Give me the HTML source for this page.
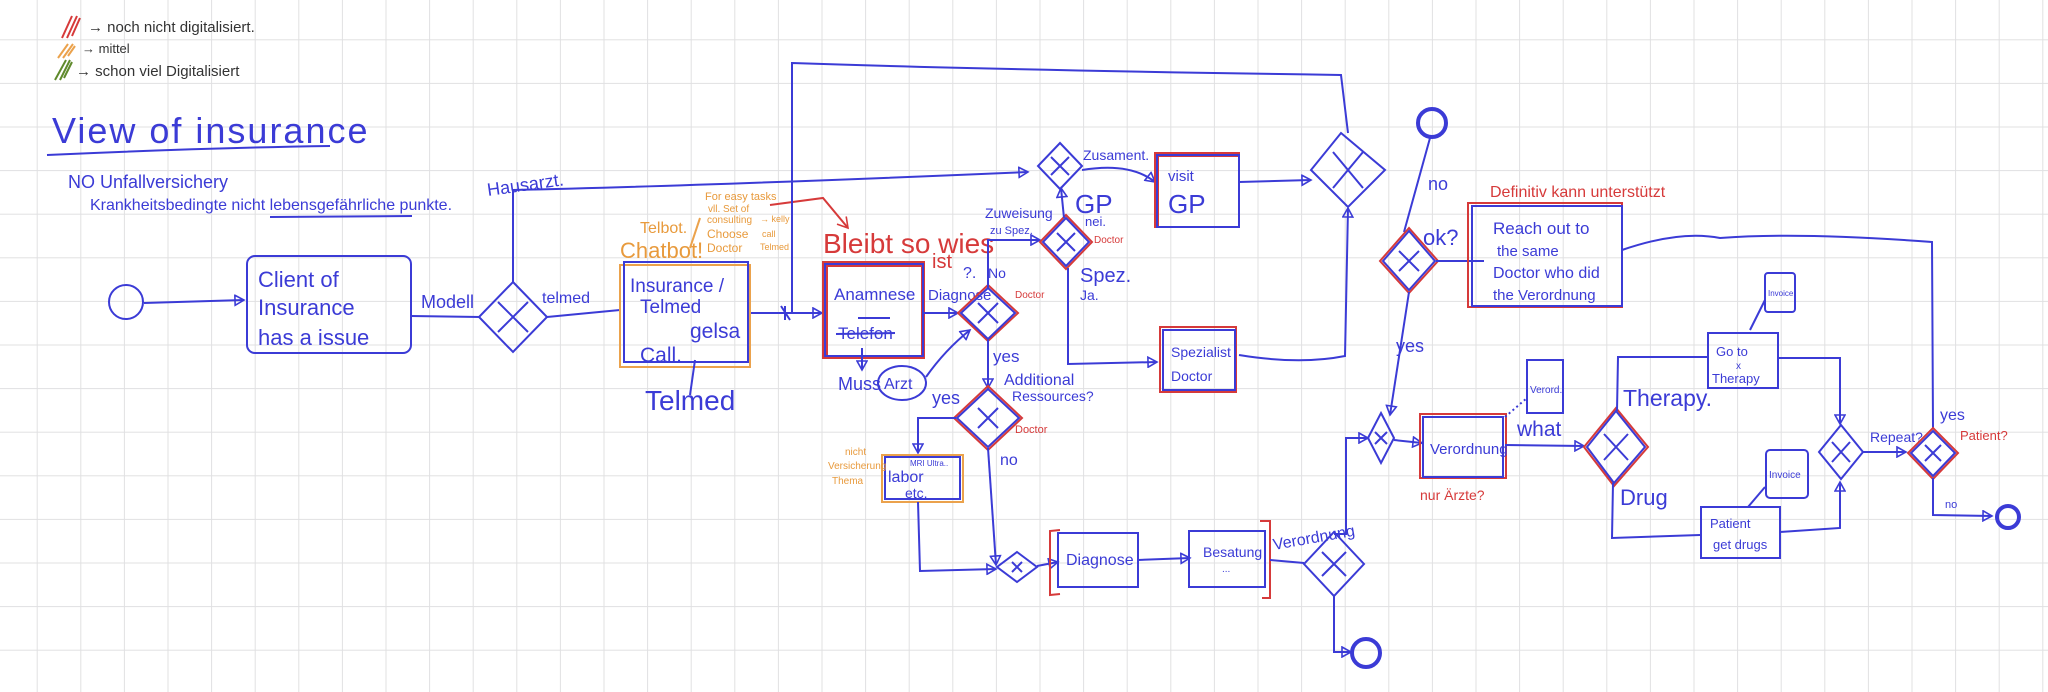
<!DOCTYPE html>
<html><head><meta charset="utf-8"><style>
html,body{margin:0;padding:0;background:#fff}
svg{display:block}
text{font-family:"Liberation Sans",sans-serif}
.b{fill:none;stroke:#3b3bd6;stroke-width:2}
.r{fill:none;stroke:#d63a3a;stroke-width:2}
.o{fill:none;stroke:#eba24c;stroke-width:2}
.bt{fill:#3b3bd6}
.rt{fill:#d63a3a}
.ot{fill:#e89a3c}
.kt{fill:#333}
</style></head><body>
<svg width="2048" height="692" viewBox="0 0 2048 692" xmlns="http://www.w3.org/2000/svg">
<defs>
<pattern id="g" x="36.7" y="39.3" width="43.6" height="43.6" patternUnits="userSpaceOnUse">
<path d="M0 0H43.6M0 0V43.6" stroke="#e0e0e2" stroke-width="2" fill="none"/>
</pattern>
<marker id="a" markerWidth="12" markerHeight="12" refX="10" refY="6" orient="auto" markerUnits="userSpaceOnUse">
<path d="M1 1L10 6L1 11Z" fill="none" stroke="#3b3bd6" stroke-width="1.6"/>
</marker>
<marker id="ar" markerWidth="14" markerHeight="14" refX="11" refY="7" orient="auto" markerUnits="userSpaceOnUse">
<path d="M1 1L11 7L1 13" fill="none" stroke="#d63a3a" stroke-width="1.6"/>
</marker>
</defs>
<rect width="2048" height="692" fill="#fff"/>
<rect width="2048" height="692" fill="url(#g)"/>

<!-- legend -->
<path d="M62 38L72 16M67 38L77 16M72 36L80 18" stroke="#d63a3a" stroke-width="2" fill="none"/>
<path d="M58 58L68 44M63 58L73 44M68 56L75 46" stroke="#eba24c" stroke-width="2" fill="none"/>
<path d="M55 80L66 60M60 80L70 60M64 78L72 62" stroke="#5f8a2c" stroke-width="2" fill="none"/>
<text x="88" y="32" class="kt" font-size="15">→ noch nicht digitalisiert.</text>
<text x="82" y="53" class="kt" font-size="13">→ mittel</text>
<text x="76" y="76" class="kt" font-size="15">→ schon viel Digitalisiert</text>

<text x="52" y="143" class="bt" font-size="36" letter-spacing="2">View of insurance</text>
<path d="M47 155Q200 148 330 146" class="b"/>
<text x="68" y="188" class="bt" font-size="18">NO Unfallversichery</text>
<text x="90" y="210" class="bt" font-size="16">Krankheitsbedingte nicht lebensgefährliche punkte.</text>
<path d="M270 217L412 216" class="b"/>
<text x="488" y="196" class="bt" font-size="18" transform="rotate(-8 488 196)">Hausarzt.</text>

<!-- start -->
<circle cx="126" cy="302" r="17" class="b"/>
<path d="M144 303L244 300" class="b" marker-end="url(#a)"/>
<rect x="247" y="256" width="164" height="97" rx="8" class="b"/>
<text x="258" y="287" class="bt" font-size="22">Client of</text>
<text x="258" y="315" class="bt" font-size="22">Insurance</text>
<text x="258" y="345" class="bt" font-size="22">has  a  issue</text>
<text x="421" y="308" class="bt" font-size="18">Modell</text>
<path d="M411 316L480 317" class="b"/>
<!-- diamond1 -->
<polygon points="513,282 547,317 513,352 479,317" class="b"/>
<path d="M498 332L528 302M498 302L528 332" class="b"/>
<path d="M513 282L513 190Q700 186 1028 172" class="b" marker-end="url(#a)"/>
<text x="542" y="303" class="bt" font-size="16">telmed</text>
<path d="M547 317L620 310" class="b"/>
<!-- orange box -->
<rect x="620" y="265" width="130" height="102" class="o"/>
<rect x="624" y="262" width="124" height="100" class="b"/>
<text x="630" y="292" class="bt" font-size="19">Insurance /</text>
<text x="640" y="313" class="bt" font-size="19">Telmed</text>
<text x="690" y="338" class="bt" font-size="21">gelsa</text>
<text x="640" y="362" class="bt" font-size="21">Call.</text>
<path d="M695 360L690 395" class="b"/>
<text x="645" y="410" class="bt" font-size="28">Telmed</text>
<text x="640" y="233" class="ot" font-size="16">Telbot.</text>
<text x="620" y="258" class="ot" font-size="22">Chatbot!</text>
<path d="M700 218L690 248" class="o" stroke-width="1.2"/>
<text x="705" y="200" class="ot" font-size="11">For easy tasks</text>
<text x="708" y="212" class="ot" font-size="10">vll. Set of</text>
<text x="707" y="223" class="ot" font-size="10">consulting</text>
<text x="707" y="238" class="ot" font-size="12">Choose</text>
<text x="707" y="252" class="ot" font-size="12">Doctor</text>
<text x="760" y="222" class="ot" font-size="9">→ kelly</text>
<text x="762" y="237" class="ot" font-size="9">call</text>
<text x="760" y="250" class="ot" font-size="9">Telmed</text>
<path d="M770 205L823 198L848 228" class="r" marker-end="url(#ar)"/>
<text x="823" y="253" class="rt" font-size="28">Bleibt so wies</text>
<text x="932" y="268" class="rt" font-size="20">ist</text>

<!-- top long line -->
<path d="M792 312L792 63Q1000 70 1341 75L1348 133" class="b"/>
<path d="M751 313L822 313" class="b" marker-end="url(#a)"/>
<path d="M785 306L785 320M781 306L790 320" class="b"/>
<!-- Anamnese -->
<rect x="823" y="262" width="101" height="96" class="r"/>
<rect x="827" y="266" width="95" height="90" class="r"/>
<rect x="825" y="264" width="98" height="92" class="b"/>
<text x="834" y="300" class="bt" font-size="17">Anamnese</text>
<path d="M858 318L890 318" class="b"/>
<text x="838" y="339" class="bt" font-size="17">Telefon</text>
<path d="M836 334L895 333" class="b"/>
<text x="928" y="300" class="bt" font-size="15">Diagnose</text>
<path d="M924 313L958 313" class="b" marker-end="url(#a)"/>
<!-- diamond2 -->
<polygon points="988,285 1018,313 988,341 958,313" class="r"/>
<polygon points="988,288 1015,313 988,339 961,313" class="b"/>
<path d="M978 323L998 303M978 303L998 323" class="b"/>
<text x="1015" y="298" class="rt" font-size="10">Doctor</text>
<text x="963" y="278" class="bt" font-size="16">?.</text>
<text x="988" y="278" class="bt" font-size="14">No</text>
<path d="M988 288L988 240L1040 240" class="b" marker-end="url(#a)"/>
<text x="985" y="218" class="bt" font-size="14">Zuweisung</text>
<text x="990" y="234" class="bt" font-size="11">zu Spez.</text>
<!-- diamond3 -->
<polygon points="1066,215 1092,242 1066,269 1040,242" class="r"/>
<polygon points="1066,218 1089,242 1066,266 1043,242" class="b"/>
<path d="M1057 251L1075 233M1057 233L1075 251" class="b"/>
<text x="1094" y="243" class="rt" font-size="10">Doctor</text>
<path d="M1064 218L1061 188" class="b" marker-end="url(#a)"/>
<text x="1075" y="213" class="bt" font-size="26">GP</text>
<text x="1085" y="226" class="bt" font-size="13">nei.</text>
<text x="1080" y="282" class="bt" font-size="20">Spez.</text>
<text x="1080" y="300" class="bt" font-size="14">Ja.</text>
<path d="M1068 268L1068 364L1157 362" class="b" marker-end="url(#a)"/>
<!-- GP diamond -->
<polygon points="1060,143 1082,166 1060,189 1038,166" class="b"/>
<path d="M1051 175L1069 157M1051 157L1069 175" class="b"/>
<text x="1083" y="160" class="bt" font-size="14">Zusament.</text>
<path d="M1082 170Q1130 162 1155 182" class="b" marker-end="url(#a)"/>
<!-- visit GP -->
<rect x="1155" y="153" width="84" height="74" class="r"/>
<rect x="1158" y="156" width="81" height="71" class="r"/>
<rect x="1157" y="155" width="82" height="72" class="b"/>
<text x="1168" y="181" class="bt" font-size="15">visit</text>
<text x="1168" y="213" class="bt" font-size="26">GP</text>
<path d="M1239 182L1311 180" class="b" marker-end="url(#a)"/>
<!-- Spezialist -->
<rect x="1160" y="327" width="76" height="65" class="r"/>
<rect x="1163" y="330" width="72" height="60" class="b"/>
<text x="1171" y="357" class="bt" font-size="14">Spezialist</text>
<text x="1171" y="381" class="bt" font-size="14">Doctor</text>
<path d="M1239 355Q1300 365 1345 356L1348 208" class="b" marker-end="url(#a)"/>
<!-- big diamond -->
<polygon points="1341,133 1385,170 1348,207 1311,170" class="b"/>
<path d="M1333 188L1363 152M1333 152L1363 188" class="b"/>

<!-- end top -->
<circle cx="1432" cy="123" r="14" fill="none" stroke="#3b3bd6" stroke-width="4"/>
<path d="M1430 138L1404 232" class="b"/>
<text x="1428" y="190" class="bt" font-size="18">no</text>
<!-- diamond4 ok? -->
<polygon points="1409,228 1438,261 1409,293 1380,261" class="r"/>
<polygon points="1409,231 1435,261 1409,290 1383,261" class="b"/>
<path d="M1399 271L1419 251M1399 251L1419 271" class="b"/>
<text x="1423" y="245" class="bt" font-size="22">ok?</text>
<path d="M1436 261L1484 261" class="b"/>
<rect x="1468" y="203" width="154" height="104" class="r"/>
<rect x="1472" y="206" width="150" height="100" class="b"/>
<text x="1490" y="197" class="rt" font-size="16">Definitiv kann unterstützt</text>
<text x="1493" y="234" class="bt" font-size="17">Reach  out  to</text>
<text x="1497" y="256" class="bt" font-size="15">the   same</text>
<text x="1493" y="278" class="bt" font-size="16">Doctor who did</text>
<text x="1493" y="300" class="bt" font-size="15">the Verordnung</text>
<path d="M1622 250Q1680 230 1720 238Q1800 232 1932 242L1933 428" class="b"/>
<path d="M1409 292L1390 415" class="b" marker-end="url(#a)"/>
<text x="1396" y="352" class="bt" font-size="18">yes</text>
<!-- small diamond -->
<polygon points="1381,413 1394,438 1381,463 1368,438" class="b"/>
<path d="M1375 444L1387 432M1375 432L1387 444" class="b"/>
<path d="M1334 534L1346 534L1346 438L1368 438" class="b" marker-end="url(#a)"/>
<path d="M1394 440L1422 443" class="b" marker-end="url(#a)"/>
<!-- Verordnung -->
<rect x="1420" y="414" width="86" height="64" class="r"/>
<rect x="1423" y="417" width="80" height="60" class="b"/>
<text x="1430" y="454" class="bt" font-size="15">Verordnung</text>
<text x="1420" y="500" class="rt" font-size="14">nur Ärzte?</text>
<rect x="1527" y="360" width="36" height="53" class="b"/>
<text x="1530" y="393" class="bt" font-size="10">Verord.</text>
<path d="M1505 417L1527 398" class="b" stroke-dasharray="2 3"/>
<text x="1517" y="436" class="bt" font-size="21">what</text>
<path d="M1505 445L1584 446" class="b" marker-end="url(#a)"/>
<!-- what diamond -->
<polygon points="1616,408 1648,447 1614,486 1584,447" class="r"/>
<polygon points="1616,411 1645,447 1614,483 1587,447" class="b"/>
<path d="M1604 460L1628 434M1604 434L1628 460" class="b"/>
<path d="M1617 411L1618 357L1708 357" class="b"/>
<text x="1623" y="406" class="bt" font-size="23">Therapy.</text>
<rect x="1708" y="333" width="70" height="55" class="b"/>
<text x="1716" y="356" class="bt" font-size="13">Go to</text>
<text x="1736" y="369" class="bt" font-size="10">x</text>
<text x="1712" y="383" class="bt" font-size="13">Therapy</text>
<rect x="1765" y="273" width="30" height="39" rx="3" class="b"/>
<text x="1768" y="296" class="bt" font-size="8">Invoice</text>
<path d="M1750 330L1765 300" class="b"/>
<path d="M1778 358L1840 358L1840 424" class="b" marker-end="url(#a)"/>
<!-- repeat diamond -->
<polygon points="1841,425 1863,452 1841,479 1819,452" class="b"/>
<path d="M1832 462L1850 442M1832 442L1850 462" class="b"/>
<text x="1870" y="442" class="bt" font-size="14">Repeat?</text>
<path d="M1863 452L1906 452" class="b" marker-end="url(#a)"/>
<!-- patient diamond -->
<polygon points="1933,428 1958,453 1933,479 1908,453" class="r"/>
<polygon points="1933,431 1955,453 1933,476 1911,453" class="b"/>
<path d="M1925 461L1941 445M1925 445L1941 461" class="b"/>
<text x="1940" y="420" class="bt" font-size="16">yes</text>
<text x="1960" y="440" class="rt" font-size="13">Patient?</text>
<path d="M1933 478L1933 515L1992 516" class="b" marker-end="url(#a)"/>
<text x="1945" y="508" class="bt" font-size="11">no</text>
<circle cx="2008" cy="517" r="11" fill="none" stroke="#3b3bd6" stroke-width="4"/>
<path d="M1613 483L1612 538L1700 535" class="b"/>
<text x="1620" y="505" class="bt" font-size="22">Drug</text>
<rect x="1701" y="507" width="79" height="51" class="b"/>
<text x="1710" y="528" class="bt" font-size="13">Patient</text>
<text x="1713" y="549" class="bt" font-size="13">get drugs</text>
<rect x="1766" y="450" width="42" height="48" rx="4" class="b"/>
<text x="1769" y="478" class="bt" font-size="10">Invoice</text>
<path d="M1748 507L1765 487" class="b"/>
<path d="M1780 532L1840 528L1840 482" class="b" marker-end="url(#a)"/>

<!-- lower left -->
<path d="M862 348L862 370" class="b" marker-end="url(#a)"/>
<text x="838" y="390" class="bt" font-size="18">Muss</text>
<ellipse cx="902" cy="383" rx="24" ry="17" class="b"/>
<text x="884" y="389" class="bt" font-size="16">Arzt</text>
<path d="M926 377Q945 350 970 330" class="b" marker-end="url(#a)"/>
<path d="M988 340L988 388" class="b" marker-end="url(#a)"/>
<text x="993" y="362" class="bt" font-size="17">yes</text>
<!-- diamond5 -->
<polygon points="988,386 1022,418 988,450 954,418" class="r"/>
<polygon points="988,389 1019,418 988,447 957,418" class="b"/>
<path d="M978 428L998 408M978 408L998 428" class="b"/>
<text x="1004" y="385" class="bt" font-size="16">Additional</text>
<text x="1012" y="401" class="bt" font-size="14">Ressources?</text>
<text x="1015" y="433" class="rt" font-size="11">Doctor</text>
<text x="932" y="404" class="bt" font-size="18">yes</text>
<path d="M956 418L918 418L918 453" class="b" marker-end="url(#a)"/>
<rect x="882" y="455" width="81" height="47" class="o"/>
<rect x="885" y="457" width="75" height="42" class="b"/>
<text x="910" y="466" class="bt" font-size="8">MRI  Ultra..</text>
<text x="888" y="482" class="bt" font-size="16">labor</text>
<text x="905" y="498" class="bt" font-size="14">etc.</text>
<text x="845" y="455" class="ot" font-size="10">nicht</text>
<text x="828" y="469" class="ot" font-size="10">Versicherung</text>
<text x="832" y="484" class="ot" font-size="10">Thema</text>
<text x="1000" y="465" class="bt" font-size="16">no</text>
<path d="M988 448L996 565" class="b" marker-end="url(#a)"/>
<path d="M918 502L920 571L996 569" class="b" marker-end="url(#a)"/>
<polygon points="1017,552 1037,567 1017,582 997,567" class="b"/>
<path d="M1012 572L1022 562M1012 562L1022 572" class="b"/>
<path d="M1037 566L1058 562" class="b" marker-end="url(#a)"/>
<path d="M1060 530L1050 531L1050 595L1060 594" class="r"/>
<rect x="1058" y="533" width="80" height="54" class="b"/>
<text x="1066" y="565" class="bt" font-size="16">Diagnose</text>
<path d="M1138 560L1190 558" class="b" marker-end="url(#a)"/>
<rect x="1189" y="531" width="76" height="56" class="b"/>
<text x="1203" y="557" class="bt" font-size="14">Besatung</text>
<text x="1222" y="572" class="bt" font-size="10">...</text>
<path d="M1260 521L1270 521L1270 598L1262 598" class="r"/>
<text x="1274" y="550" class="bt" font-size="16" transform="rotate(-10 1274 550)">Verordnung</text>
<path d="M1270 560L1304 563" class="b"/>
<polygon points="1334,532 1364,564 1334,596 1304,564" class="b"/>
<path d="M1322 576L1346 552M1322 552L1346 576" class="b"/>
<path d="M1334 596L1334 652L1351 652" class="b" marker-end="url(#a)"/>
<circle cx="1366" cy="653" r="14" fill="none" stroke="#3b3bd6" stroke-width="4"/>
</svg>
</body></html>
